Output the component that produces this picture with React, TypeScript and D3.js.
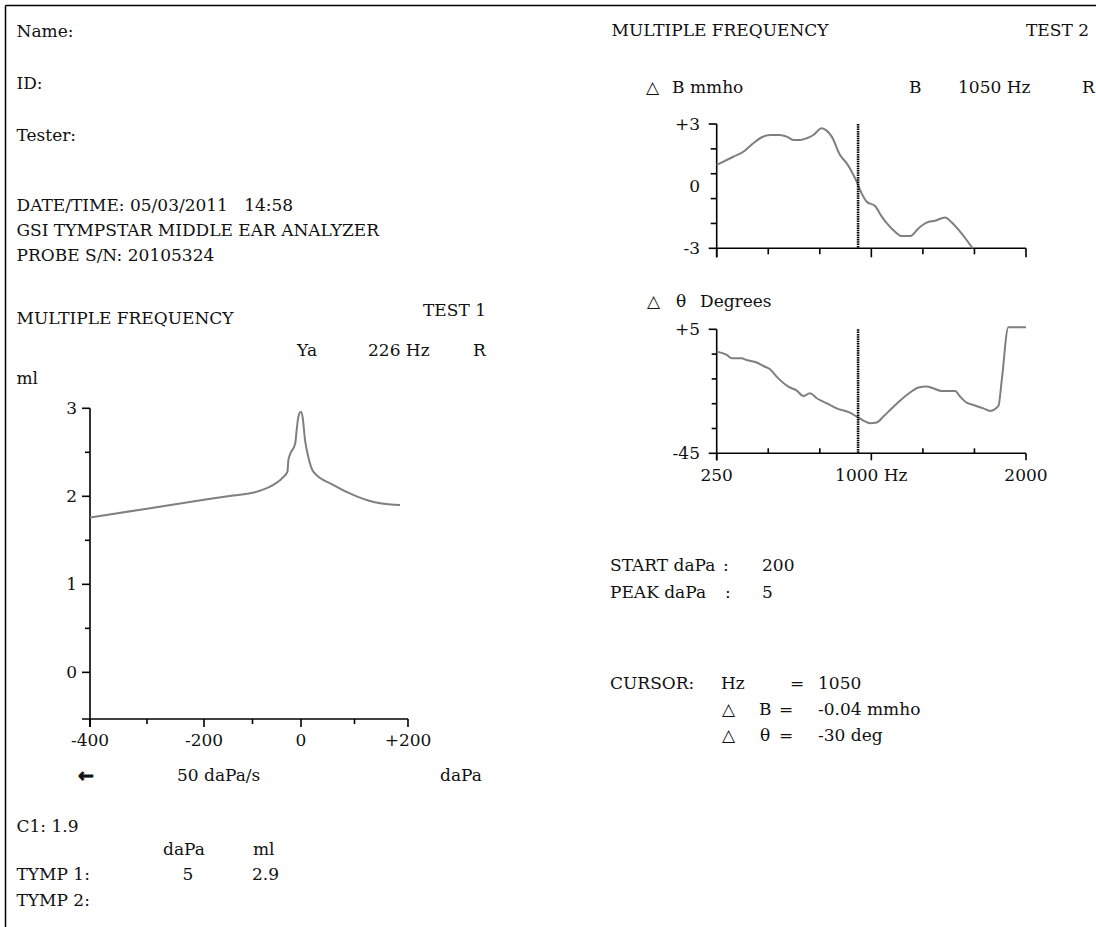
import React from 'react';
import { scaleLinear, line, curveMonotoneX, range } from 'd3';

// TEST 1 tympanogram (226 Hz)
const tympPressure = [-400, -300, -200, -140, -100, -81, -57, -36, -28, -26, -23, -12, -9, -5.6, -0.6, 3, 7.5, 13.6, 23, 60, 104, 148, 185];
const tympVolume = [1.76, 1.86, 1.96, 2.01, 2.04, 2.07, 2.13, 2.22, 2.28, 2.41, 2.47, 2.6, 2.75, 2.9, 2.96, 2.9, 2.64, 2.45, 2.28, 2.13, 2.0, 1.92, 1.9];
const pressureMajor = [-400, -200, 0, 200];
const pressureMinor = [-300, -100, 100];
const pressureLabels = ['-400', '-200', '0', '+200'];
const volumeMajor = [0, 1, 2, 3];
const volumeMinor = [0.5, 1.5, 2.5];

// TEST 2 multiple frequency
const freqB = [250, 344, 401, 457, 505, 552, 608, 646, 684, 722, 759, 797, 844, 872, 901, 948, 986, 1014, 1042, 1070, 1099, 1146, 1184, 1212, 1259, 1297, 1344, 1391, 1438, 1485, 1542, 1580, 1627, 1664, 1698];
const deltaB = [1.02, 1.42, 1.66, 2.07, 2.36, 2.47, 2.47, 2.39, 2.23, 2.23, 2.31, 2.47, 2.79, 2.68, 2.39, 1.5, 1.1, 0.7, 0.22, -0.35, -0.75, -0.96, -1.47, -1.79, -2.2, -2.41, -2.41, -2.04, -1.76, -1.67, -1.51, -1.76, -2.2, -2.6, -3.0];
const freqTheta = [250, 307, 335, 391, 420, 476, 514, 552, 589, 655, 703, 740, 778, 816, 872, 929, 1004, 1042, 1080, 1118, 1155, 1193, 1240, 1287, 1344, 1391, 1438, 1476, 1523, 1599, 1627, 1661, 1702, 1759, 1797, 1844, 1863, 1900, 2000];
const deltaTheta = [-4.0, -5.35, -6.7, -6.7, -7.4, -8.4, -9.8, -11.1, -14.1, -18.1, -19.7, -21.9, -20.8, -22.8, -24.8, -26.9, -28.6, -30.2, -31.8, -32.9, -32.6, -30.2, -26.9, -23.8, -20.5, -18.5, -18.1, -18.8, -19.9, -19.9, -22.1, -24.4, -25.5, -26.9, -27.9, -25.9, -15.4, 5.8, 5.8];
const freqTickLabels = ['250', '', '', '1000 Hz', '', '', '2000'];
const cursorHz = 1050;

const FONT = 'DejaVu Serif';
const FS = 17;
const AXIS = '#000';
const CURVE = '#7f7f7f';

const App = () => {
  // left chart scales
  const x = scaleLinear().domain([-400, -200, 0, 200]).range([90, 204, 301, 408]);
  const y = scaleLinear().domain([-0.53, 3]).range([719, 408.3]);

  // right chart scales
  const fx = scaleLinear().domain([250, 2000]).range([716.7, 1026]);
  const yB = scaleLinear().domain([-3, 3]).range([248.3, 124]);
  const yT = scaleLinear().domain([-45, 5]).range([453.3, 329.3]);
  const freqTicks = range(7).map(i => 250 + (i * 1750) / 6);
  const bTicks = range(6).map(i => -3 + i * 1.2);
  const tTicks = range(6).map(i => -45 + i * 10);

  const tympPath = line<number>()
    .x((d, i) => x(tympPressure[i]))
    .y(d => y(d))
    .curve(curveMonotoneX)(tympVolume);
  const bPath = line<number>()
    .x((d, i) => fx(freqB[i]))
    .y(d => yB(d))
    .curve(curveMonotoneX)(deltaB);
  const tPath = line<number>()
    .x((d, i) => fx(freqTheta[i]))
    .y(d => yT(d))
    .curve(curveMonotoneX)(deltaTheta);

  const cx = fx(cursorHz);
  const t = (props: any, s: string) => <text fontFamily={FONT} fontSize={FS} fill="#111" {...props}>{s}</text>;

  return (
    <svg width={1096} height={927} style={{ position: 'absolute', left: 0, top: 0 }}>
      <rect width={1096} height={927} fill="#fff" />
      {/* page border */}
      <line x1={5.5} y1={5.5} x2={1096} y2={5.5} stroke="#000" strokeWidth={1.5} />
      <line x1={5.5} y1={5.5} x2={5.5} y2={927} stroke="#000" strokeWidth={1.5} />

      {/* header */}
      {t({ x: 16.5, y: 37 }, 'Name:')}
      {t({ x: 16.5, y: 89 }, 'ID:')}
      {t({ x: 16.5, y: 141 }, 'Tester:')}
      {t({ x: 16.5, y: 211 }, 'DATE/TIME: 05/03/2011\u00a0\u00a0\u00a014:58')}
      {t({ x: 16.5, y: 236 }, 'GSI TYMPSTAR MIDDLE EAR ANALYZER')}
      {t({ x: 16.5, y: 261 }, 'PROBE S/N: 20105324')}

      {/* TEST 1 */}
      {t({ x: 16.5, y: 324 }, 'MULTIPLE FREQUENCY')}
      {t({ x: 423, y: 316 }, 'TEST 1')}
      {t({ x: 297, y: 356 }, 'Ya')}
      {t({ x: 368, y: 356 }, '226 Hz')}
      {t({ x: 473, y: 356 }, 'R')}
      {t({ x: 16.5, y: 384 }, 'ml')}

      <g stroke={AXIS} strokeWidth={1.6}>
        <line x1={x(-400)} y1={y(3)} x2={x(-400)} y2={y(-0.53) + 8} />
        <line x1={x(-400) - 8} y1={y(-0.53)} x2={x(200)} y2={y(-0.53)} />
        {volumeMajor.map(v => <line key={'vm' + v} x1={x(-400) - 8} x2={x(-400)} y1={y(v)} y2={y(v)} />)}
        {volumeMinor.map(v => <line key={'vn' + v} x1={x(-400) - 5} x2={x(-400)} y1={y(v)} y2={y(v)} />)}
        {pressureMajor.map(p => <line key={'pm' + p} x1={x(p)} x2={x(p)} y1={y(-0.53)} y2={y(-0.53) + 8} />)}
        {pressureMinor.map(p => <line key={'pn' + p} x1={x(p)} x2={x(p)} y1={y(-0.53)} y2={y(-0.53) + 5} />)}
      </g>
      {volumeMajor.map(v => t({ key: 'vl' + v, x: 77, y: y(v), dy: '0.36em', textAnchor: 'end' }, String(v)))}
      {pressureMajor.map((p, i) => t({ key: 'pl' + p, x: x(p), y: 746, textAnchor: 'middle' }, pressureLabels[i]))}
      <path d={tympPath ?? ''} fill="none" stroke={CURVE} strokeWidth={2} />

      <text x={78} y={782} fontFamily="DejaVu Sans" fontWeight="bold" fontSize={19} fill="#111" stroke="#111" strokeWidth={0.8}>←</text>
      {t({ x: 177, y: 781 }, '50 daPa/s')}
      {t({ x: 440, y: 781 }, 'daPa')}
      {t({ x: 16.5, y: 832 }, 'C1: 1.9')}
      {t({ x: 163, y: 855 }, 'daPa')}
      {t({ x: 253, y: 855 }, 'ml')}
      {t({ x: 16.5, y: 880 }, 'TYMP 1:')}
      {t({ x: 188, y: 880, textAnchor: 'middle' }, '5')}
      {t({ x: 252, y: 880 }, '2.9')}
      {t({ x: 16.5, y: 906 }, 'TYMP 2:')}

      {/* TEST 2 */}
      {t({ x: 611.5, y: 36 }, 'MULTIPLE FREQUENCY')}
      {t({ x: 1026, y: 36 }, 'TEST 2')}
      {t({ x: 646, y: 93 }, '\u25b3')}
      {t({ x: 672, y: 93 }, 'B mmho')}
      {t({ x: 909, y: 93 }, 'B')}
      {t({ x: 958, y: 93 }, '1050 Hz')}
      {t({ x: 1082, y: 93 }, 'R')}

      <g stroke={AXIS} strokeWidth={1.6}>
        <line x1={fx(250)} y1={yB(3)} x2={fx(250)} y2={yB(-3) + 9} />
        <line x1={fx(250)} y1={yB(-3)} x2={fx(2000)} y2={yB(-3)} />
        {bTicks.map((v, i) => {
          const len = i === 0 || i === 5 ? 8 : 6;
          return <line key={'bt' + i} x1={fx(250) - len} x2={fx(250)} y1={yB(v)} y2={yB(v)} />;
        })}
        {freqTicks.map((f, i) => {
          const len = i % 3 === 0 ? 9 : 6;
          return <line key={'fb' + i} x1={fx(f)} x2={fx(f)} y1={yB(-3)} y2={yB(-3) + len} />;
        })}
      </g>
      {t({ x: 700, y: yB(3), dy: '0.36em', textAnchor: 'end' }, '+3')}
      {t({ x: 700, y: yB(0), dy: '0.36em', textAnchor: 'end' }, '0')}
      {t({ x: 700, y: yB(-3), dy: '0.36em', textAnchor: 'end' }, '-3')}
      <path d={bPath ?? ''} fill="none" stroke={CURVE} strokeWidth={2} />
      <line x1={cx} x2={cx} y1={yB(3)} y2={yB(-3)} stroke="#000" strokeWidth={2.6} strokeDasharray="1.5 0.8" />

      {t({ x: 647, y: 307 }, '\u25b3')}
      {t({ x: 676, y: 307 }, '\u03b8')}
      {t({ x: 700, y: 307 }, 'Degrees')}
      <g stroke={AXIS} strokeWidth={1.6}>
        <line x1={fx(250)} y1={yT(5)} x2={fx(250)} y2={yT(-45) + 7} />
        <line x1={fx(250)} y1={yT(-45)} x2={fx(2000)} y2={yT(-45)} />
        {tTicks.map((v, i) => {
          const len = i === 0 || i === 5 ? 8 : 5;
          return <line key={'tt' + i} x1={fx(250) - len} x2={fx(250)} y1={yT(v)} y2={yT(v)} />;
        })}
        {freqTicks.map((f, i) =>
          i % 3 === 0
            ? <line key={'ft' + i} x1={fx(f)} x2={fx(f)} y1={yT(-45)} y2={yT(-45) + 7} />
            : <line key={'ft' + i} x1={fx(f)} x2={fx(f)} y1={yT(-45)} y2={yT(-45) - 5} />
        )}
      </g>
      {t({ x: 700, y: yT(5), dy: '0.36em', textAnchor: 'end' }, '+5')}
      {t({ x: 700, y: yT(-45), dy: '0.36em', textAnchor: 'end' }, '-45')}
      {freqTicks.map((f, i) => freqTickLabels[i]
        ? t({ key: 'fl' + i, x: fx(f), y: 481, textAnchor: 'middle' }, freqTickLabels[i])
        : null)}
      <path d={tPath ?? ''} fill="none" stroke={CURVE} strokeWidth={2} />
      <line x1={cx} x2={cx} y1={yT(5)} y2={yT(-45)} stroke="#000" strokeWidth={2.6} strokeDasharray="1.5 0.8" />

      {/* summary */}
      {t({ x: 610, y: 571 }, 'START daPa')}
      {t({ x: 723, y: 571 }, ':')}
      {t({ x: 762, y: 571 }, '200')}
      {t({ x: 610, y: 598 }, 'PEAK daPa')}
      {t({ x: 725, y: 598 }, ':')}
      {t({ x: 762, y: 598 }, '5')}

      {t({ x: 610, y: 689 }, 'CURSOR:')}
      {t({ x: 721, y: 689 }, 'Hz')}
      {t({ x: 790, y: 689 }, '=')}
      {t({ x: 818, y: 689 }, '1050')}
      {t({ x: 722, y: 715 }, '\u25b3')}
      {t({ x: 759, y: 715 }, 'B')}
      {t({ x: 779, y: 715 }, '=')}
      {t({ x: 818, y: 715 }, '-0.04 mmho')}
      {t({ x: 722, y: 741 }, '\u25b3')}
      {t({ x: 760, y: 741 }, '\u03b8')}
      {t({ x: 779, y: 741 }, '=')}
      {t({ x: 818, y: 741 }, '-30 deg')}
    </svg>
  );
};

export default App;
